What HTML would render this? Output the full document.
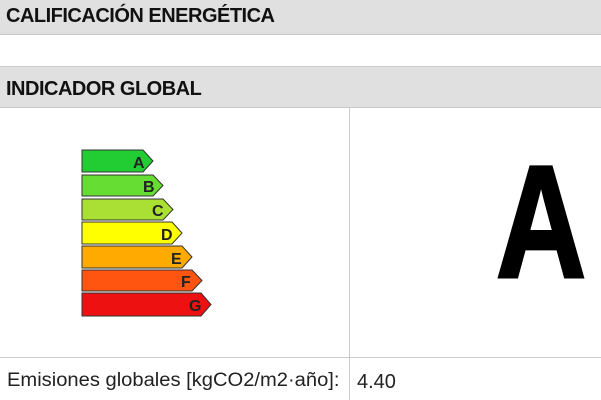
<!DOCTYPE html>
<html><head><style>
body{margin:0;width:601px;height:400px;background:#fff;overflow:hidden;font-family:"Liberation Sans",sans-serif;position:relative}
.h{position:absolute;left:0;width:601px;background:#e0e0e0;border-top:1px solid #ccc;border-bottom:1px solid #c8c8c8;font-size:20px;color:#111;letter-spacing:-0.5px;box-sizing:border-box;padding-left:6px}
.h span{display:inline-block;font-weight:bold;transform:scaleX(1.0);transform-origin:left}
</style></head><body>
<div class="h" style="top:-2px;height:37px;line-height:34px"><span>CALIFICACIÓN ENERGÉTICA</span></div>
<div class="h" style="top:66px;height:42px;line-height:44px"><span>INDICADOR GLOBAL</span></div>
<div style="position:absolute;left:349px;top:108px;width:1px;height:292px;background:#ccc"></div>
<div style="position:absolute;left:0;top:357px;width:601px;height:1px;background:#ccc"></div>
<div style="position:absolute;left:7px;top:370px;font-size:19px;color:#222;font-family:'Liberation Sans',sans-serif;transform:scaleX(1.06);transform-origin:left">Emisiones globales [kgCO2/m2·año]:</div>
<div style="position:absolute;left:357px;top:371px;font-size:20px;color:#222">4.40</div>
<div style="position:absolute;left:496px;top:142px;font-size:160px;font-weight:bold;color:#000;line-height:160px;transform:scaleX(0.78);transform-origin:left;-webkit-text-stroke:3px #000">A</div>
<svg style="position:absolute;left:0;top:0" width="601" height="400">
<g stroke="#333" stroke-width="1">
<polygon points="82,150 143,150 153,161 143,172 82,172" fill="#22cc33"/>
<polygon points="82,175 153,175 163,185.5 153,196 82,196" fill="#66dd33"/>
<polygon points="82,199 163,199 173,209.5 163,220 82,220" fill="#aae033"/>
<polygon points="82,222 172,222 182,233 172,244 82,244" fill="#ffff00"/>
<polygon points="82,246 182,246 192,257 182,268 82,268" fill="#ffaa00"/>
<polygon points="82,270 192,270 202,280.5 192,291 82,291" fill="#ff5511"/>
<polygon points="82,293 201,293 211,304.5 201,316 82,316" fill="#ee1111"/>
</g>
<g font-family="Liberation Sans" font-weight="bold" font-size="16" fill="#222" stroke="none">
<text x="133" y="168">A</text><text x="143" y="192">B</text><text x="152" y="216">C</text>
<text x="161" y="240">D</text><text x="171" y="264">E</text><text x="181" y="287">F</text><text x="189" y="311">G</text>
</g>
</svg>
</body></html>
